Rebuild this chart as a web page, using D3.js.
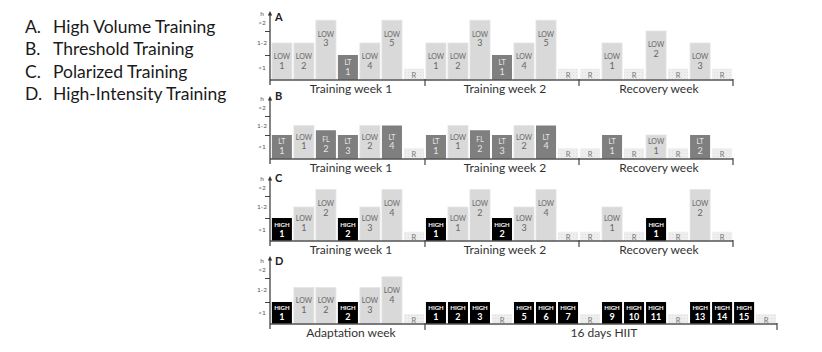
<!DOCTYPE html>
<html>
<head>
<meta charset="utf-8">
<script src="https://cdn.jsdelivr.net/npm/d3@7"></script>
<style>
  body { margin: 0; background: #fff; }
  text { font-family: Lato, "Open Sans", sans-serif; }
</style>
</head>
<body>
<div id="chart"></div>
<script>
// legend entries
var legendKeys = ["A.", "B.", "C.", "D."];
var legendNames = ["High Volume Training", "Threshold Training", "Polarized Training", "High-Intensity Training"];

// sessions per day and their duration in hours
var aSessions = ["LOW 1","LOW 2","LOW 3","LT 1","LOW 4","LOW 5","R",
                 "LOW 1","LOW 2","LOW 3","LT 1","LOW 4","LOW 5","R",
                 "R","LOW 1","R","LOW 2","R","LOW 3","R"];
var aHours = [1.5,1.5,2.45,1,1.5,2.45,0.45,
              1.5,1.5,2.45,1,1.5,2.45,0.45,
              0.45,1.5,0.45,2,0.45,1.5,0.45];

var bSessions = ["LT 1","LOW 1","FL 2","LT 3","LOW 2","LT 4","R",
                 "LT 1","LOW 1","FL 2","LT 3","LOW 2","LT 4","R",
                 "R","LT 1","R","LOW 1","R","LT 2","R"];
var bHours = [1,1.5,1.25,1,1.5,1.5,0.45,
              1,1.5,1.25,1,1.5,1.5,0.45,
              0.45,1,0.45,1,0.45,1,0.45];

var cSessions = ["HIGH 1","LOW 1","LOW 2","HIGH 2","LOW 3","LOW 4","R",
                 "HIGH 1","LOW 1","LOW 2","HIGH 2","LOW 3","LOW 4","R",
                 "R","LOW 1","R","HIGH 1","R","LOW 2","R"];
var cHours = [1,1.5,2.3,1,1.5,2.3,0.4,
              1,1.5,2.3,1,1.5,2.3,0.4,
              0.4,1.5,0.4,1,0.4,2.3,0.4];

var dSessions = ["HIGH 1","LOW 1","LOW 2","HIGH 2","LOW 3","LOW 4","R",
                 "HIGH 1","HIGH 2","HIGH 3","R","HIGH 5","HIGH 6","HIGH 7","R",
                 "HIGH 9","HIGH 10","HIGH 11","R","HIGH 13","HIGH 14","HIGH 15","R"];
var dHours = [1,1.6,1.6,1,1.6,2.05,0.45,
              1,1,1,0.45,1,1,1,0.45,
              1,1,1,0.45,1,1,1,0.45];

var weekNames = ["Training week 1", "Training week 2", "Recovery week"];
var weekDays = [7, 7, 7];
var dWeekNames = ["Adaptation week", "16 days HIIT"];
var dWeekDays = [7, 16];

var bandLabels = ["<1", "1-2", ">2", "h"];

var panels = [
  {id: "A", sessions: aSessions, hours: aHours, weeks: weekNames, days: weekDays},
  {id: "B", sessions: bSessions, hours: bHours, weeks: weekNames, days: weekDays},
  {id: "C", sessions: cSessions, hours: cHours, weeks: weekNames, days: weekDays},
  {id: "D", sessions: dSessions, hours: dHours, weeks: dWeekNames, days: dWeekDays}
];

// layout of each panel: baseline, y of 1h and 2h ticks, axis top
var layout = [
  {base: 80,  t1: 55,  t2: 31,  top: 11},
  {base: 159, t1: 135, t2: 116, top: 96},
  {base: 241, t1: 218, t2: 196, top: 176},
  {base: 324, t1: 302, t2: 278, top: 256}
];

var fill = {LOW: "#d9d9d9", LT: "#7f7f7f", FL: "#7f7f7f", HIGH: "#000000"};
var ink  = {LOW: "#666666", LT: "#e6e6e6", FL: "#e6e6e6", HIGH: "#ffffff"};

var width = 822, height = 352;
var axisX = 270, x0 = 271, slot = 22;

var svg = d3.select("#chart")
  .append("svg")
    .attr("width", width)
    .attr("height", height);

// dotted fill for rest days
var pat = svg.append("defs").append("pattern")
    .attr("id", "rest")
    .attr("width", 3).attr("height", 3)
    .attr("patternUnits", "userSpaceOnUse");
pat.append("rect").attr("width", 3).attr("height", 3).attr("fill", "#eeeeee");
pat.append("rect").attr("width", 1).attr("height", 1).attr("fill", "#dedede");

// legend
var legend = svg.append("g");
legend.selectAll("text.key")
  .data(legendKeys)
  .enter().append("text")
    .attr("class", "key")
    .attr("x", 25)
    .attr("y", function(d, i) { return 32.5 + i * 22.5; })
    .attr("font-size", 17.5)
    .attr("fill", "#1a1a1a")
    .text(function(d) { return d; });
legend.selectAll("text.name")
  .data(legendNames)
  .enter().append("text")
    .attr("class", "name")
    .attr("x", 53)
    .attr("y", function(d, i) { return 32.5 + i * 22.5; })
    .attr("font-size", 17.5)
    .attr("fill", "#1a1a1a")
    .text(function(d) { return d; });

panels.forEach(function(p, pi) {
  var L = layout[pi];
  var n = p.sessions.length;
  var g = svg.append("g");

  var x = d3.scaleBand()
    .domain(d3.range(n))
    .range([x0, x0 + slot * n])
    .paddingInner(0.09)
    .paddingOuter(0.04);

  var y = d3.scaleLinear()
    .domain([0, 1, 2])
    .range([L.base, L.t1, L.t2]);

  // bars
  var days = p.sessions.map(function(s, i) {
    var parts = s.split(" ");
    return {i: i, type: parts[0], num: parts[1] || "", h: p.hours[i]};
  });

  g.selectAll("rect.bar")
    .data(days)
    .enter().append("rect")
      .attr("class", "bar")
      .attr("x", function(d) { return x(d.i); })
      .attr("y", function(d) { return y(d.h); })
      .attr("width", x.bandwidth())
      .attr("height", function(d) { return y(0) - y(d.h); })
      .attr("fill", function(d) { return d.type == "R" ? "url(#rest)" : fill[d.type]; })
      .attr("stroke", function(d) { return d.type == "LOW" ? "#e4e4e4" : "none"; })
      .attr("stroke-width", 0.8);

  // bar labels
  var work = days.filter(function(d) { return d.type != "R"; });
  function nameY(d) {
    var h = y(0) - y(d.h);
    return y(d.h) + Math.min(h / 2 - 5, 14);
  }
  g.selectAll("text.type")
    .data(work)
    .enter().append("text")
      .attr("class", "type")
      .attr("x", function(d) { return x(d.i) + x.bandwidth() / 2; })
      .attr("y", nameY)
      .attr("dy", "0.35em")
      .attr("text-anchor", "middle")
      .attr("font-size", function(d) { return d.type == "HIGH" ? 6 : 7; })
      .attr("font-weight", function(d) { return d.type == "HIGH" ? "bold" : "normal"; })
      .attr("fill", function(d) { return ink[d.type]; })
      .text(function(d) { return d.type; });
  g.selectAll("text.num")
    .data(work)
    .enter().append("text")
      .attr("class", "num")
      .attr("x", function(d) { return x(d.i) + x.bandwidth() / 2; })
      .attr("y", function(d) { return nameY(d) + 9; })
      .attr("dy", "0.35em")
      .attr("text-anchor", "middle")
      .attr("font-size", 9)
      .attr("font-weight", function(d) { return d.type == "HIGH" ? "bold" : "normal"; })
      .attr("fill", function(d) { return ink[d.type]; })
      .text(function(d) { return d.num; });
  g.selectAll("text.rest")
    .data(days.filter(function(d) { return d.type == "R"; }))
    .enter().append("text")
      .attr("class", "rest")
      .attr("x", function(d) { return x(d.i) + x.bandwidth() / 2; })
      .attr("y", function(d) { return (y(d.h) + y(0)) / 2 + 1; })
      .attr("dy", "0.35em")
      .attr("text-anchor", "middle")
      .attr("font-size", 7.5)
      .attr("fill", "#777")
      .text("R");

  // baseline
  var xEnd = x0 + slot * n;
  g.append("line")
    .attr("x1", axisX).attr("x2", xEnd)
    .attr("y1", L.base).attr("y2", L.base)
    .attr("stroke", "#555").attr("stroke-width", 1.5);

  // week boundaries and week names
  var bounds = [0];
  p.days.forEach(function(k, i) { bounds.push(bounds[i] + k); });
  g.selectAll("line.wk")
    .data(bounds.slice(1))
    .enter().append("line")
      .attr("class", "wk")
      .attr("x1", function(d) { return x0 + slot * d; })
      .attr("x2", function(d) { return x0 + slot * d; })
      .attr("y1", L.base - 1)
      .attr("y2", L.base + 6)
      .attr("stroke", "#444").attr("stroke-width", 1.2);
  g.selectAll("text.wk")
    .data(p.weeks)
    .enter().append("text")
      .attr("class", "wk")
      .attr("x", function(d, i) { return x0 + slot * (bounds[i] + bounds[i + 1]) / 2 + 3; })
      .attr("y", L.base + 13)
      .attr("text-anchor", "middle")
      .attr("font-size", 12)
      .attr("fill", "#333")
      .text(function(d) { return d; });

  // y axis with arrow
  g.append("g")
    .attr("transform", "translate(" + axisX + ",0)")
    .call(d3.axisLeft(y).tickValues([1, 2]).tickSize(5).tickFormat(""))
    .call(function(a) {
      a.select(".domain").remove();
      a.selectAll("line").attr("stroke", "#444").attr("stroke-width", 1);
    });
  g.append("line")
    .attr("x1", axisX).attr("x2", axisX)
    .attr("y1", L.top + 3).attr("y2", L.base + 5)
    .attr("stroke", "#333").attr("stroke-width", 1.2);
  g.append("path")
    .attr("d", "M" + axisX + "," + L.top + "l-2.2,4.5h4.4z")
    .attr("fill", "#333");

  var labelY = [(L.base + L.t1) / 2, (L.t1 + L.t2) / 2, L.t2 - 8, L.t2 - 17];
  g.selectAll("text.band")
    .data(bandLabels)
    .enter().append("text")
      .attr("class", "band")
      .attr("x", 262)
      .attr("y", function(d, i) { return labelY[i]; })
      .attr("dy", "0.35em")
      .attr("text-anchor", "middle")
      .attr("font-size", 6.5)
      .attr("fill", "#555")
      .text(function(d) { return d; });

  // panel letter
  g.append("text")
    .attr("x", 275)
    .attr("y", L.base - 63)
    .attr("dy", "0.35em")
    .attr("font-size", 11)
    .attr("font-weight", "bold")
    .attr("fill", "#222")
    .text(p.id);
});
</script>
</body>
</html>
